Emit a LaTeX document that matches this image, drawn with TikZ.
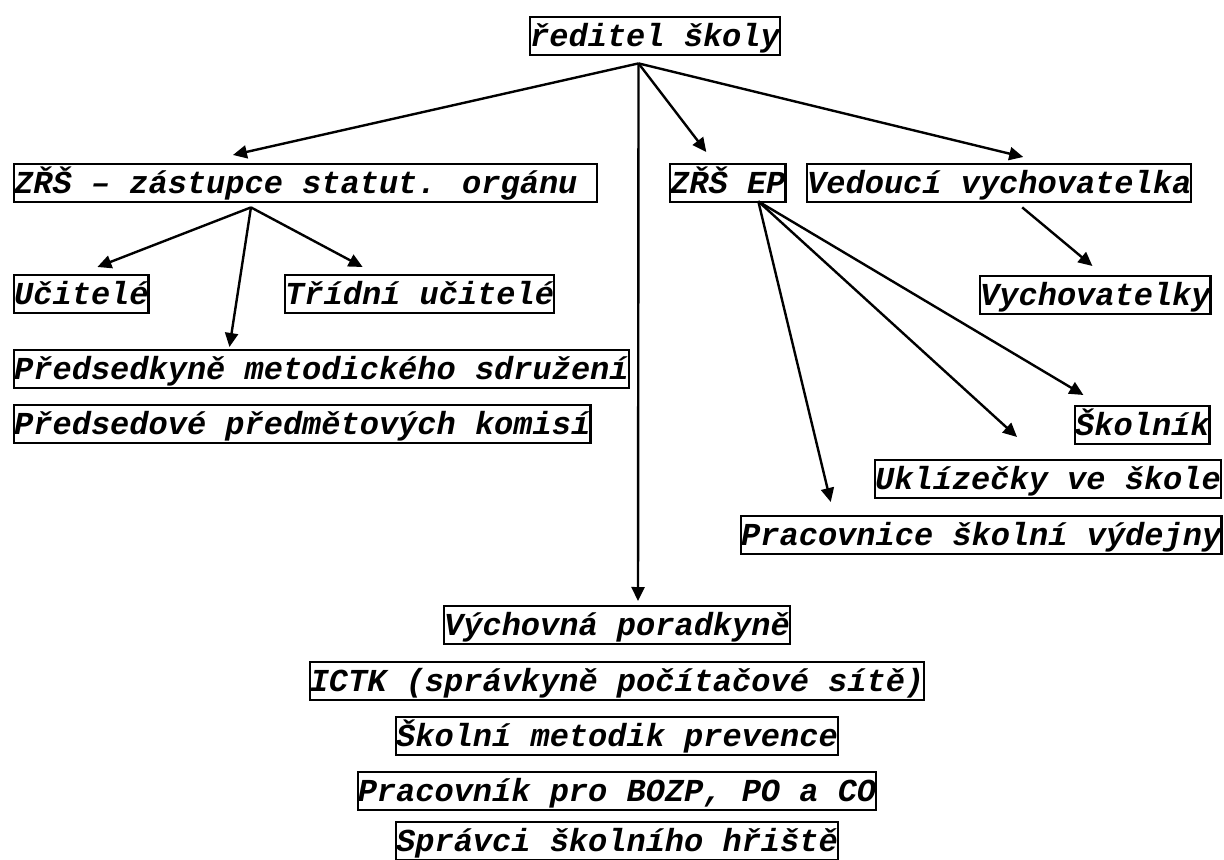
\documentclass[tikz,border=0pt]{standalone}
\usepackage{fontspec}
\newfontfamily\orgfont{Liberation Mono}
\usetikzlibrary{positioning,calc,arrows.meta}
\tikzstyle{every text node part}=[font=\orgfont\bfseries\itshape\fontsize{16}{18}\selectfont]
\tikzstyle{post}=[draw,inner xsep=0pt,inner ysep=0pt,text height=14.5pt,text depth=4.5pt,anchor=north west]

\begin{document}
\begin{tikzpicture}[x=0.5pt,y=-0.5pt,line width=1.2pt,
    >={Triangle[length=7pt,width=6.5pt]}
]
      \useasboundingbox (0,0) rectangle (1224,860);

      \node [post] (reditel) at (529,16) {ředitel školy};

      \node [post] (zrs) at (13,163) {ZŘŠ – zástupce statut. orgánu\hphantom{x}};
      \node [post] (zrsep) at (669,163) {ZŘŠ EP};
      \node [post] (vedouci) at (806,163) {Vedoucí vychovatelka};

      \node [post] (ucitele) at (13,274) {Učitelé};
      \node [post] (tridni) at (284,274) {Třídní učitelé};
      \node [post] (predsedkyne) at (13,349) {Předsedkyně metodického sdružení};
      \node [post] (predsedove) at (13,404) {Předsedové předmětových komisí};

      \node [post] (vychovatelky) at (979,275) {Vychovatelky};
      \node [post] (skolnik) at (1074,405) {Školník};
      \node [post] (uklizecky) at (874,459) {Uklízečky ve škole};
      \node [post] (pracovnice) at (740,515) {Pracovnice školní výdejny};

      \node [post,anchor=north] (vychovna) at (617,605) {Výchovná poradkyně};
      \node [post,anchor=north] (ictk) at (617,661) {ICTK (správkyně počítačové sítě)};
      \node [post,anchor=north] (skolni) at (617,716) {Školní metodik prevence};
      \node [post,anchor=north] (pracovnik) at (617,771) {Pracovník pro BOZP, PO a CO};
      \node [post,anchor=north] (spravci) at (617,821) {Správci školního hřiště};

      \coordinate (rfork) at ($(reditel.south)+(-16.5,7)$);
      \coordinate (zfork) at ($(zrs.south)+(-54.5,4)$);
      \coordinate (epfork) at ($(zrsep.south)+(30.5,-2)$);
      \coordinate (vfork) at ($(vedouci.south)+(23,4)$);

      \draw [->] (rfork) -- ($(zrs.north)+(-72.5,-8)$);
      \draw [->] (rfork) -- ($(vychovna.north)+(21,-4)$);
      \draw [->] (rfork) -- ($(zrsep.north)+(-21.5,-11)$);
      \draw [->] (rfork) -- ($(vedouci.north)+(24,-6)$);

      \draw [->] (zfork) -- ($(ucitele.north)+(16,-7)$);
      \draw [->] (zfork) -- ($(predsedkyne.north)+(-92,-2)$);
      \draw [->] (zfork) -- ($(tridni.north)+(-57,-7)$);

      \draw [->] (epfork) -- ($(pracovnice.north)+(-150.5,-13)$);
      \draw [->] (epfork) -- ($(uklizecky.north)+(-31,-22)$);
      \draw [->] (epfork) -- ($(skolnik.north)+(-59,-10)$);

      \draw [->] (vfork) -- ($(vychovatelky.north)+(-3,-9)$);

    \end{tikzpicture}
\end{document}
